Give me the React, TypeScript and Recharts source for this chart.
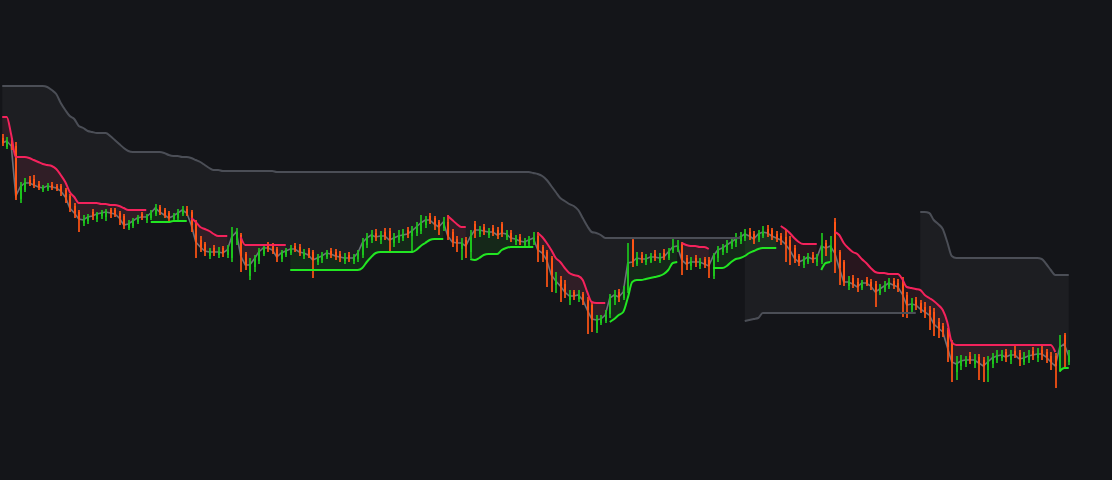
import React from 'react';
import { ComposedChart, XAxis, YAxis, Area, Line, Bar } from 'recharts';

const _ = null;

// candles (oldest first)
const opens = [
  362, 353, 360, 354, 301, 310, 320, 321, 316, 310,
  311, 315, 314, 314, 310, 304, 294, 288, 277, 279,
  288, 281, 284, 283, 290, 290, 287, 284, 272, 274,
  278, 286, 280, 282, 286, 293, 290, 287, 281, 282,
  286, 291, 288, 278, 260, 256, 244, 252, 245, 252,
  245, 242, 260, 265, 246, 224, 233, 239, 246, 256,
  255, 251, 241, 245, 247, 254, 253, 244, 250, 248,
  238, 240, 243, 249, 248, 246, 239, 245, 239, 241,
  245, 255, 260, 267, 260, 268, 269, 257, 260, 262,
  270, 264, 267, 269, 275, 284, 282, 278, 272, 278,
  268, 261, 251, 260, 248, 276, 266, 273, 265, 272,
  270, 276, 263, 267, 258, 263, 255, 256, 258, 264,
  253, 248, 242, 215, 220, 216, 200, 208, 201, 206,
  200, 195, 170, 177, 179, 186, 200, 208, 202, 210,
  260, 236, 245, 238, 238, 246, 239, 247, 242, 249,
  250, 256, 242, 234, 242, 234, 241, 240, 224, 242,
  248, 250, 254, 257, 259, 262, 268, 266, 260, 264,
  271, 270, 266, 264, 263, 260, 252, 244, 235, 238,
  245, 238, 238, 257, 248, 278, 248, 238, 214, 222,
  218, 212, 220, 218, 216, 207, 210, 213, 219, 217,
  220, 205, 190, 200, 197, 193, 190, 188, 178, 174,
  170, 158, 128, 134, 136, 144, 136, 143, 140, 130,
  136, 140, 142, 148, 140, 149, 147, 138, 140, 149,
  142, 150, 148, 144, 144, 130, 165, 138,
];

const highs = [
  366, 363, 362, 358, 318, 322, 324, 325, 319, 315,
  317, 318, 316, 316, 312, 306, 297, 290, 285, 286,
  291, 288, 290, 291, 292, 292, 289, 286, 280, 282,
  285, 288, 286, 290, 296, 295, 292, 289, 287, 291,
  294, 294, 290, 280, 264, 258, 252, 255, 253, 254,
  255, 273, 272, 267, 248, 242, 245, 252, 256, 258,
  257, 253, 250, 252, 255, 257, 256, 251, 252, 250,
  246, 248, 250, 252, 251, 249, 247, 248, 246, 250,
  262, 267, 270, 271, 269, 272, 272, 267, 270, 271,
  273, 274, 278, 285, 284, 287, 284, 280, 283, 285,
  271, 264, 262, 263, 270, 279, 274, 276, 272, 275,
  273, 278, 270, 270, 265, 266, 262, 264, 268, 268,
  255, 250, 244, 228, 224, 220, 210, 210, 210, 208,
  203, 198, 185, 185, 190, 206, 210, 211, 214, 257,
  262, 248, 248, 246, 247, 250, 247, 251, 252, 263,
  260, 258, 245, 243, 245, 242, 243, 243, 247, 254,
  256, 260, 263, 267, 268, 271, 272, 269, 270, 274,
  275, 272, 269, 267, 270, 264, 255, 246, 244, 247,
  248, 246, 267, 260, 264, 282, 250, 240, 224, 225,
  222, 220, 223, 221, 219, 216, 219, 222, 222, 221,
  223, 208, 202, 203, 200, 198, 194, 192, 182, 177,
  172, 160, 144, 145, 144, 148, 146, 146, 143, 144,
  147, 150, 150, 151, 150, 154, 150, 148, 150, 153,
  152, 154, 151, 148, 147, 165, 167, 150,
];

const lows = [
  354, 351, 350, 300, 297, 308, 314, 312, 310, 308,
  309, 310, 309, 304, 297, 288, 282, 268, 274, 276,
  280, 278, 281, 279, 282, 283, 275, 271, 270, 272,
  276, 280, 277, 280, 284, 285, 282, 278, 278, 280,
  284, 284, 268, 242, 248, 244, 241, 244, 242, 243,
  242, 238, 255, 228, 230, 220, 228, 236, 244, 248,
  246, 238, 238, 243, 245, 248, 244, 241, 242, 222,
  235, 237, 241, 242, 240, 238, 236, 238, 236, 238,
  242, 252, 257, 259, 256, 260, 247, 253, 257, 259,
  262, 247, 264, 266, 272, 276, 270, 265, 269, 260,
  253, 248, 240, 242, 242, 262, 263, 265, 262, 264,
  261, 263, 260, 258, 255, 255, 252, 254, 255, 238,
  238, 213, 208, 207, 198, 202, 195, 200, 198, 195,
  166, 168, 167, 175, 177, 182, 195, 198, 200, 207,
  233, 234, 237, 235, 237, 239, 237, 240, 240, 247,
  248, 225, 230, 230, 233, 231, 232, 222, 221, 238,
  245, 247, 251, 253, 256, 259, 260, 256, 258, 262,
  263, 260, 258, 255, 238, 235, 237, 234, 232, 236,
  237, 234, 236, 244, 238, 227, 215, 214, 210, 212,
  208, 210, 214, 210, 193, 205, 208, 211, 211, 208,
  183, 182, 187, 190, 187, 182, 170, 164, 162, 163,
  138, 118, 120, 130, 133, 136, 132, 120, 118, 118,
  132, 137, 139, 138, 136, 142, 134, 135, 137, 140,
  138, 140, 137, 130, 112, 128, 133, 135,
];

const closes = [
  357, 359, 354, 304, 313, 317, 317, 315, 313, 312,
  314, 313, 312, 309, 303, 292, 287, 281, 280, 283,
  284, 286, 287, 288, 287, 286, 282, 275, 276, 279,
  282, 283, 283, 287, 292, 288, 285, 282, 284, 287,
  290, 287, 275, 258, 253, 249, 248, 248, 248, 247,
  250, 263, 268, 244, 235, 235, 241, 248, 252, 252,
  250, 243, 247, 249, 251, 251, 248, 247, 245, 240,
  242, 244, 247, 246, 244, 243, 242, 242, 242, 247,
  257, 262, 265, 263, 264, 264, 260, 262, 264, 265,
  266, 269, 273, 277, 280, 280, 276, 273, 278, 264,
  258, 257, 257, 254, 263, 270, 270, 269, 268, 268,
  265, 267, 266, 262, 261, 259, 258, 260, 262, 250,
  247, 240, 225, 219, 214, 208, 204, 204, 205, 200,
  190, 181, 180, 181, 185, 202, 205, 203, 208, 237,
  238, 242, 241, 241, 243, 243, 242, 243, 248, 253,
  254, 240, 236, 238, 238, 238, 236, 234, 244, 250,
  252, 255, 258, 261, 263, 266, 264, 261, 266, 268,
  267, 264, 262, 260, 256, 250, 242, 238, 240, 243,
  241, 242, 254, 252, 254, 247, 232, 218, 218, 216,
  213, 217, 217, 214, 208, 211, 214, 217, 215, 213,
  206, 195, 196, 195, 191, 188, 185, 176, 172, 168,
  153, 138, 136, 139, 140, 140, 140, 137, 134, 138,
  142, 144, 145, 143, 145, 145, 141, 142, 144, 145,
  146, 146, 143, 138, 134, 153, 156, 144,
];

// fast trailing stop: above price (down trend) / below price (up trend)
const fastDown = [
  383, 383, 365, 343, 343, 343, 342, 340, 338, 336,
  335, 334, 331, 325, 318, 308, 303, 297, 297, 297,
  297, 297, 296, 296, 295, 295, 294, 292, 290, 290,
  290, 290, 290, _, _, _, _, _, _, _,
  _, _, 282, 278, 273, 271, 269, 266, 264, 264,
  264, _, _, 263, 255, 255, 255, 255, 255, 255,
  255, 255, 255, 255, _, _, _, _, _, _,
  _, _, _, _, _, _, _, _, _, _,
  _, _, _, _, _, _, _, _, _, _,
  _, _, _, _, _, _, _, _, _, 284,
  280, 276, 273, 273, _, _, _, _, _, _,
  _, _, _, _, _, _, _, _, _, 267,
  263, 257, 250, 242, 238, 232, 227, 225, 224, 220,
  208, 198, 197, 197, 197, _, _, _, _, _,
  _, _, _, _, _, _, _, _, _, _,
  _, 257, 255, 254, 254, 253, 253, 251, _, _,
  _, _, _, _, _, _, _, _, _, _,
  _, _, _, 274, 271, 267, 262, 258, 256, 256,
  256, 256, _, _, _, 268, 265, 257, 252, 248,
  246, 241, 237, 232, 228, 227, 227, 226, 226, 226,
  221, 213, 212, 211, 210, 205, 202, 199, 195, 190,
  178, 158, 155, 155, 155, 155, 155, 155, 155, 155,
  155, 155, 155, 155, 155, 155, 155, 155, 155, 155,
  155, 155, 155, 155, 148, _, _, _,
];

const fastUp = [
  _, _, _, _, _, _, _, _, _, _,
  _, _, _, _, _, _, _, _, _, _,
  _, _, _, _, _, _, _, _, _, _,
  _, _, _, 278, 278, 278, 278, 278, 279, 279,
  279, 279, _, _, _, _, _, _, _, _,
  _, _, _, _, _, _, _, _, _, _,
  _, _, _, _, 230, 230, 230, 230, 230, 230,
  230, 230, 230, 230, 230, 230, 230, 230, 230, 230,
  232, 238, 243, 247, 248, 248, 248, 248, 248, 248,
  248, 248, 250, 254, 257, 260, 261, 261, 261, _,
  _, _, _, _, 241, 240, 242, 245, 246, 246,
  246, 250, 252, 253, 253, 253, 253, 253, 253, _,
  _, _, _, _, _, _, _, _, _, _,
  _, _, _, _, _, 178, 181, 185, 188, 202,
  218, 220, 220, 221, 222, 223, 224, 226, 230, 237,
  238, _, _, _, _, _, _, _, 232, 232,
  232, 234, 238, 241, 242, 244, 247, 249, 251, 252,
  252, 252, 252, _, _, _, _, _, _, _,
  _, _, 230, 237, 238, _, _, _, _, _,
  _, _, _, _, _, _, _, _, _, _,
  _, _, _, _, _, _, _, _, _, _,
  _, _, _, _, _, _, _, _, _, _,
  _, _, _, _, _, _, _, _, _, _,
  _, _, _, _, _, 129, 132, 132,
];

// slow trailing stop, one value per candle; it sits below price between these two candles
const slowTrail = [
  414, 414, 414, 414, 414, 414, 414, 414, 414, 414,
  413, 410, 406, 397, 390, 384, 381, 374, 372, 369,
  368, 367, 367, 367, 364, 360, 356, 352, 349, 348,
  348, 348, 348, 348, 348, 348, 347, 345, 344, 344,
  343, 343, 342, 340, 338, 335, 332, 330, 330, 329,
  329, 329, 329, 329, 329, 329, 329, 329, 329, 329,
  329, 328, 328, 328, 328, 328, 328, 328, 328, 328,
  328, 328, 328, 328, 328, 328, 328, 328, 328, 328,
  328, 328, 328, 328, 328, 328, 328, 328, 328, 328,
  328, 328, 328, 328, 328, 328, 328, 328, 328, 328,
  328, 328, 328, 328, 328, 328, 328, 328, 328, 328,
  328, 328, 328, 328, 328, 328, 328, 328, 327, 326,
  324, 320, 314, 308, 302, 299, 296, 294, 290, 282,
  274, 268, 267, 265, 262, 262, 262, 262, 262, 262,
  262, 262, 262, 262, 262, 262, 262, 262, 262, 262,
  262, 262, 262, 262, 262, 262, 262, 262, 262, 262,
  262, 262, 262, 262, 262, 179, 180, 181, 182, 187,
  187, 187, 187, 187, 187, 187, 187, 187, 187, 187,
  187, 187, 187, 187, 187, 187, 187, 187, 187, 187,
  187, 187, 187, 187, 187, 187, 187, 187, 187, 187,
  187, 187, 187, 187, 288, 288, 287, 280, 276, 271,
  258, 244, 242, 242, 242, 242, 242, 242, 242, 242,
  242, 242, 242, 242, 242, 242, 242, 242, 242, 242,
  242, 241, 236, 230, 225, 225, 225, 225,
];
const slowBelowFrom = 165;
const slowBelowTo = 203;

const BG = '#141519';
const UP = '#1cc41c';
const DOWN = '#ff5414';
const RED = '#f4225c';
const GREEN = '#22e622';
const SLOW = '#4b4e56';

const rows = closes.map((c, i) => {
  const below = i >= slowBelowFrom && i <= slowBelowTo;
  const su = below ? null : slowTrail[i];
  const sd = below ? slowTrail[i] : null;
  const fd = fastDown[i];
  const fu = fastUp[i];
  return {
    i,
    o: opens[i],
    h: highs[i],
    l: lows[i],
    c,
    hl: [lows[i], highs[i]],
    su,
    sd,
    fd,
    fu,
    suFill: su == null ? null : [c, su],
    sdFill: sd == null ? null : [c, sd],
    fdFill: fd == null ? null : [c, fd],
    fuFill: fu == null ? null : [c, fu],
  };
});

const Candle = (props: any) => {
  const { x, y, width, height, payload } = props;
  if (x == null || y == null || !payload) return null;
  const top = Math.min(y, y + height);
  const span = Math.abs(height);
  const { o, h, l, c } = payload;
  const range = h - l || 1;
  const toY = (v: number) => top + ((h - v) / range) * span;
  const rx = Math.round(x + width / 2 - 1);
  const color = c >= o ? UP : DOWN;
  const bTop = Math.round(toY(Math.max(o, c)));
  const bBot = Math.round(toY(Math.min(o, c)));
  const wTop = Math.round(top);
  const wBot = Math.round(top + span);
  return (
    <g shapeRendering="crispEdges">
      <rect x={rx} y={wTop} width={2} height={Math.max(1, wBot - wTop)} fill={color} fillOpacity={0.85} />
      <rect x={rx} y={bTop} width={2} height={Math.max(1, bBot - bTop)} fill={color} />
    </g>
  );
};

export default function App() {
  return (
    <div
      style={{
        position: 'absolute',
        left: 0,
        top: 0,
        width: 1112,
        height: 480,
        background: BG,
        overflow: 'hidden',
      }}
    >
      <ComposedChart
        width={1112}
        height={480}
        data={rows}
        margin={{ top: 0, right: 41, bottom: 0, left: 0 }}
      >
        <XAxis dataKey="i" hide />
        <YAxis hide type="number" domain={[20, 500]} allowDataOverflow />

        <Area dataKey="suFill" type="monotone" stroke="none" fill="#ffffff" fillOpacity={0.04} isAnimationActive={false} activeDot={false} />
        <Area dataKey="sdFill" type="monotone" stroke="none" fill="#ffffff" fillOpacity={0.04} isAnimationActive={false} activeDot={false} />
        <Area dataKey="fdFill" type="monotone" stroke="none" fill={RED} fillOpacity={0.09} isAnimationActive={false} activeDot={false} />
        <Area dataKey="fuFill" type="monotone" stroke="none" fill={GREEN} fillOpacity={0.09} isAnimationActive={false} activeDot={false} />

        <Line dataKey="su" type="monotone" stroke={SLOW} strokeWidth={2} dot={false} activeDot={false} isAnimationActive={false} />
        <Line dataKey="sd" type="monotone" stroke={SLOW} strokeWidth={2} dot={false} activeDot={false} isAnimationActive={false} />

        <Line dataKey="c" type="linear" stroke="#7b808a" strokeOpacity={0.85} strokeWidth={1.6} dot={false} activeDot={false} isAnimationActive={false} zIndex={250} />

        <Bar dataKey="hl" barSize={3} shape={Candle} isAnimationActive={false} />

        <Line dataKey="fd" type="monotone" stroke={RED} strokeWidth={2} dot={false} activeDot={false} isAnimationActive={false} />
        <Line dataKey="fu" type="monotone" stroke={GREEN} strokeWidth={2} dot={false} activeDot={false} isAnimationActive={false} />
      </ComposedChart>
    </div>
  );
}
